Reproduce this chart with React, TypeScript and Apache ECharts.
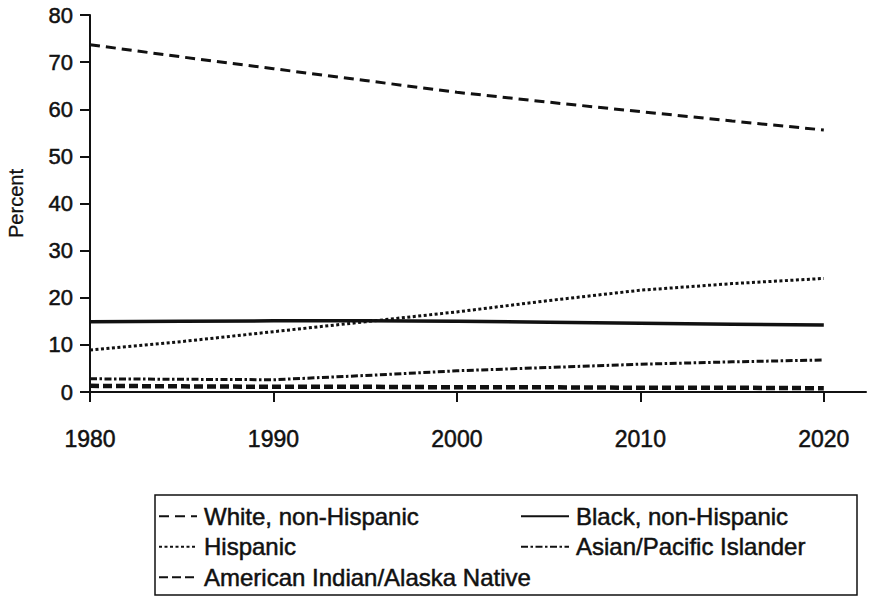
import React, { useEffect, useRef } from "react";
import * as echarts from "echarts";

const years = [1980, 1985, 1990, 1995, 2000, 2005, 2010, 2015, 2020];
const whiteValues = [73.7, 71.1, 68.6, 66.1, 63.6, 61.5, 59.5, 57.5, 55.6];
const blackValues = [14.9, 15.0, 15.1, 15.1, 15.0, 14.8, 14.6, 14.4, 14.2];
const hispanicValues = [8.9, 10.7, 12.8, 14.9, 17.0, 19.4, 21.6, 23.0, 24.1];
const asianValues = [2.8, 2.7, 2.6, 3.5, 4.5, 5.2, 5.9, 6.4, 6.8];
const aianValues = [1.3, 1.2, 1.1, 1.1, 1.0, 1.0, 0.9, 0.9, 0.8];
const xTicks = [1980, 1990, 2000, 2010, 2020];
const seriesNames = [
  "White, non-Hispanic",
  "Black, non-Hispanic",
  "Hispanic",
  "Asian/Pacific Islander",
  "American Indian/Alaska Native",
];

const FONT = "'Liberation Sans', Arial, Helvetica, sans-serif";
const INK = "#111";

export default function App() {
  const ref = useRef<HTMLDivElement>(null);
  useEffect(() => {
    if (!ref.current) return;
    const chart = echarts.init(ref.current, null, { renderer: "svg" });
    const pair = (vals: number[]) => years.map((y, i) => [y, vals[i]]);
    const mk = (name: string, vals: number[], width: number, type: any) => ({
      name,
      type: "line",
      data: pair(vals),
      symbol: "none",
      smooth: false,
      lineStyle: { color: INK, width, type, cap: "butt" },
      itemStyle: { color: INK },
    });
    const txt = {
      fontFamily: FONT,
      color: INK,
      textBorderColor: INK,
      textBorderWidth: 0.5,
    };
    const legendText = { ...txt, fontSize: 24, padding: [0, 0, 0, 2] };
    const legendBase = {
      orient: "vertical",
      top: 504,
      itemHeight: 14,
      itemGap: 6,
      padding: 0,
      selectedMode: false,
      itemStyle: { color: "transparent", borderColor: "transparent", borderWidth: 0 },
      textStyle: legendText,
    };
    chart.setOption({
      animation: false,
      backgroundColor: "#fff",
      grid: { left: 90, right: 3, top: 15, bottom: 204, containLabel: false, outerBoundsMode: "none" },
      xAxis: {
        type: "value",
        min: 1980,
        max: 2022.3,
        axisLine: { show: true, lineStyle: { color: INK, width: 2 } },
        axisTick: { show: true, length: 10, lineStyle: { color: INK, width: 2 }, customValues: xTicks },
        axisLabel: {
          ...txt,
          customValues: xTicks,
          margin: 35,
          fontSize: 23,
          formatter: (v: number) => String(v),
        },
        splitLine: { show: false },
      },
      yAxis: {
        type: "value",
        min: 0,
        max: 80,
        interval: 10,
        name: "Percent",
        nameLocation: "middle",
        nameGap: 64,
        nameRotate: 90,
        nameTextStyle: { ...txt, fontSize: 20, textBorderWidth: 0.3 },
        axisLine: { show: true, lineStyle: { color: INK, width: 2 } },
        axisTick: { show: true, length: 10, lineStyle: { color: INK, width: 2 } },
        axisLabel: { ...txt, margin: 17, fontSize: 22 },
        splitLine: { show: false },
      },
      legend: [
        {
          ...legendBase,
          left: 158,
          itemWidth: 38,
          data: [seriesNames[0], seriesNames[2], seriesNames[4]],
        },
        {
          ...legendBase,
          left: 520,
          itemWidth: 48,
          data: [seriesNames[1], seriesNames[3]],
        },
      ],
      graphic: [
        {
          type: "rect",
          shape: { x: 155, y: 495, width: 702, height: 100 },
          style: { fill: "none", stroke: INK, lineWidth: 1.5 },
          silent: true,
        },
      ],
      series: [
        mk(seriesNames[0], whiteValues, 3, [10, 6]),
        mk(seriesNames[1], blackValues, 3.5, "solid"),
        mk(seriesNames[2], hispanicValues, 3, [3, 2.5]),
        mk(seriesNames[3], asianValues, 3, [7, 2.5, 2.5, 2.5]),
        mk(seriesNames[4], aianValues, 4.5, [9, 4]),
      ],
    });
    return () => chart.dispose();
  }, []);
  return (
    <div
      ref={ref}
      style={{ position: "fixed", left: 0, top: 0, width: 869, height: 596, background: "#fff" }}
    />
  );
}
